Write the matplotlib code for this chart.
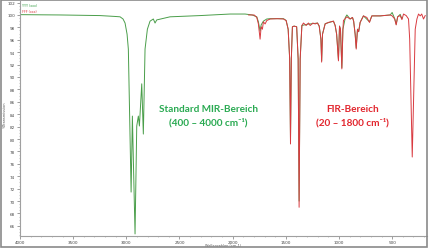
import matplotlib
matplotlib.use("Agg")
import matplotlib.pyplot as plt
from matplotlib.patches import Rectangle
from matplotlib.ticker import MultipleLocator

# MIR spectrum (green), wavenumber cm-1 / %T
green_wn = [4000, 3624, 3247, 3106, 3059, 3031, 3012, 2993, 2981, 2970,
            2955, 2943, 2932, 2918, 2902, 2887, 2877, 2855, 2840, 2824,
            2802, 2777, 2746, 2730, 2714, 2589, 2306, 2024, 1883, 1817,
            1773, 1758, 1742, 1732, 1711, 1679, 1647, 1522, 1497, 1478,
            1464, 1456, 1448, 1438, 1422, 1398, 1384, 1375, 1365, 1349,
            1300, 1246, 1202, 1186, 1170, 1163, 1155, 1130, 1052, 1036,
            1022, 1005, 995, 986, 973, 963, 940, 926, 895, 873,
            862, 848, 838, 826, 815, 801, 770, 713, 691, 612,
            518, 500, 476, 462, 448, 424, 410, 405]
green_T = [100.05, 100.0, 99.9, 99.76, 99.7, 99.35, 98.7, 96.9, 94.5, 84.8,
           71.45, 83.7, 75.2, 64.7, 82.1, 83.7, 82.1, 88.9, 80.8, 94.5,
           97.7, 99.0, 99.35, 98.7, 99.2, 99.7, 99.9, 100.15, 100.15, 100.0,
           99.7, 98.9, 97.4, 98.4, 99.0, 99.35, 99.4, 99.4, 99.1, 97.7,
           93.0, 80.0, 93.0, 98.1, 98.2, 98.1, 92.9, 70.0, 92.9, 98.3,
           98.5, 98.6, 98.7, 98.2, 96.1, 92.6, 96.9, 98.6, 99.0, 98.3,
           96.9, 92.8, 98.2, 97.7, 91.5, 97.7, 99.6, 100.0, 99.35, 99.6,
           99.0, 96.9, 94.7, 97.7, 97.3, 98.8, 99.85, 98.9, 99.85, 99.85,
           100.0, 100.4, 99.4, 98.5, 99.7, 100.1, 99.4, 99.6]

# FIR spectrum (red)
red_wn = [1850, 1798, 1773, 1758, 1742, 1732, 1720, 1711, 1695, 1679,
          1647, 1580, 1522, 1497, 1478, 1464, 1456, 1448, 1438, 1422,
          1398, 1384, 1375, 1365, 1349, 1334, 1309, 1287, 1271, 1246,
          1224, 1202, 1186, 1170, 1163, 1155, 1130, 1099, 1052, 1036,
          1022, 1005, 995, 986, 973, 963, 958, 926, 895, 873,
          862, 848, 838, 826, 815, 801, 770, 738, 713, 691,
          612, 518, 500, 476, 462, 448, 424, 408, 393, 368,
          346, 335, 311, 283, 267, 252, 236, 222, 205, 189]
red_T = [100.0, 100.0, 99.6, 98.55, 96.1, 98.1, 97.7, 98.9, 98.55, 99.1,
         99.35, 99.4, 99.35, 99.1, 97.7, 93.0, 79.2, 93.0, 98.1, 98.2,
         98.1, 92.9, 69.0, 92.9, 98.3, 98.7, 98.3, 98.7, 98.3, 98.7,
         98.55, 98.7, 98.2, 96.1, 92.4, 96.9, 98.55, 98.8, 99.0, 98.3,
         96.9, 92.6, 98.2, 97.7, 91.3, 97.7, 99.1, 99.7, 99.35, 99.6,
         99.0, 96.9, 94.5, 97.7, 97.3, 98.8, 99.85, 99.6, 98.8, 99.85,
         99.85, 100.0, 99.85, 99.35, 98.4, 99.7, 99.9, 99.25, 100.15, 99.9,
         99.35, 96.1, 77.1, 97.7, 99.35, 100.15, 99.85, 100.15, 99.35, 99.9]

x_ticks = [4000, 3500, 3000, 2500, 2000, 1500, 1000, 500]
y_ticks = list(range(66, 103, 2))

W, H = 430, 251
fig = plt.figure(figsize=(W / 100, H / 100), dpi=100)
fig.patch.set_facecolor("white")

ax = fig.add_axes([20 / W, (H - 236.5) / H, (426.7 - 20) / W, (236.5 - 2) / H])
ax.plot(green_wn, green_T, color="#4a9e4a", lw=0.7, zorder=2)
ax.plot(red_wn, red_T, color="#d93a40", lw=0.7, zorder=3)

ax.set_xlim(4000, 175)
ax.set_ylim(64.45, 102.25)
ax.set_xticks(x_ticks)
ax.set_xticklabels([str(t) for t in x_ticks])
ax.set_yticks(y_ticks)
ax.set_yticklabels([str(t) for t in y_ticks])
ax.xaxis.set_minor_locator(MultipleLocator(100))
ax.yaxis.set_minor_locator(MultipleLocator(0.5))
ax.tick_params(axis="both", which="major", labelsize=3, colors="#777777",
               labelcolor="#444444", length=2, width=0.5, pad=1.5)
ax.tick_params(axis="both", which="minor", colors="#999999", length=1, width=0.4)
for s in ["top", "right"]:
    ax.spines[s].set_visible(False)
for s in ["left", "bottom"]:
    ax.spines[s].set_color("#a0a0a0")
    ax.spines[s].set_linewidth(0.8)

fam = ["Lato", "DejaVu Sans"]
fs = 7.2
ax.text(2231, 85.0, "Standard MIR-Bereich", color="#2aaa52", fontsize=fs,
        fontweight="bold", family=fam, ha="center", va="center")
ax.text(2231, 82.74, "(400 \u2013 4000 cm\u207b\u00b9)", color="#2aaa52", fontsize=fs,
        fontweight="bold", family=fam, ha="center", va="center")
ax.text(876, 85.0, "FIR-Bereich", color="#e2262e", fontsize=fs,
        fontweight="bold", family=fam, ha="center", va="center")
ax.text(876, 82.74, "(20 \u2013 1800 cm\u207b\u00b9)", color="#e2262e", fontsize=fs,
        fontweight="bold", family=fam, ha="center", va="center")

# tiny legend
ax.text(0.006, 0.99, "YYY (xxx)", transform=ax.transAxes, fontsize=2.3,
        color="#2e9a3e", ha="left", va="top")
ax.text(0.006, 0.965, "FFF (xxx)", transform=ax.transAxes, fontsize=2.3,
        color="#d8343c", ha="left", va="top")

fig.text(5 / W, 1 - 115 / H, "%Transmission", rotation=90, fontsize=2.5,
         color="#555555", ha="center", va="center")
fig.text(223 / W, 1 - 246 / H, "Wellenzahlen (cm-1)", fontsize=2.5,
         color="#555555", ha="center", va="center")

fig.patches.append(Rectangle((1 / W, 1 - 248 / H), 426 / W, 247 / H,
                             transform=fig.transFigure, fill=False,
                             edgecolor="#8a8a8a", lw=1.2, zorder=10))

fig.savefig("out.png", dpi=100, facecolor="white")
